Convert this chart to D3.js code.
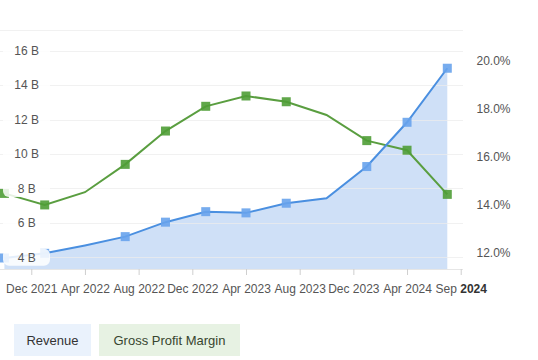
<!DOCTYPE html>
<html>
<head>
<meta charset="utf-8">
<script src="https://cdn.jsdelivr.net/npm/d3@7"></script>
<style>
  body { margin: 0; background: #fff; }
  svg { display: block; font-family: "Liberation Sans", Arial, sans-serif; }
</style>
</head>
<body>
<div id="chart"></div>
<script>
// quarterly periods (YYYY-MM)
var periods = ["2021-10","2022-01","2022-04","2022-07","2022-10","2023-01",
               "2023-04","2023-07","2023-10","2024-01","2024-04","2024-07"];
// revenue in billions
var revenue = [3.96, 4.23, 4.69, 5.20, 6.04, 6.65, 6.58, 7.14, 7.43, 9.27, 11.84, 14.98];
// gross profit margin in %
var margin = [14.45, 13.97, 14.50, 15.66, 17.05, 18.08, 18.51, 18.27, 17.72, 16.65, 16.25, 14.41];
// points drawn without a marker
var noMarker = [2, 8];

var tickPeriods = ["2021-12","2022-04","2022-08","2022-12","2023-04","2023-08","2023-12","2024-04","2024-08"];
var tickLabels = ["Dec 2021","Apr 2022","Aug 2022","Dec 2022","Apr 2023","Aug 2023","Dec 2023","Apr 2024","Sep 2024"];
var leftTicks = [4, 6, 8, 10, 12, 14, 16];
var rightTicks = [12, 14, 16, 18, 20];
var legendItems = ["Revenue", "Gross Profit Margin"];

function monthIndex(p) {
    var a = p.split("-"), b = periods[0].split("-");
    return (+a[0] - +b[0]) * 12 + (+a[1] - +b[1]);
}

var W = 538, H = 360;
var plotL = 0, plotR = 463, plotT = 30, plotB = 269;

var svg = d3.select("#chart").append("svg").attr("width", W).attr("height", H);

var x = d3.scaleLinear().domain([-0.33, 34.17]).range([plotL, plotR]);
var yL = d3.scaleLinear().domain([3.32, 17.2]).range([plotB, plotT]);
var yR = d3.scaleLinear().domain([11.3, 21.26]).range([plotB, plotT]);

var pts = periods.map(function(p, i) {
    return { m: monthIndex(p), rev: revenue[i], gm: margin[i], i: i };
});

// revenue area
var area = d3.area()
    .x(function(d) { return x(d.m); })
    .y0(plotB)
    .y1(function(d) { return yL(d.rev); });
svg.append("path").datum(pts)
    .attr("d", area)
    .attr("fill", "#cfe0f7");

// grid lines (on top of the area, very light)
svg.append("g").selectAll("line")
    .data(leftTicks)
    .enter().append("line")
    .attr("x1", plotL).attr("x2", plotR)
    .attr("y1", function(d) { return Math.round(yL(d)) + 0.5; })
    .attr("y2", function(d) { return Math.round(yL(d)) + 0.5; })
    .attr("stroke", "#ececec")
    .attr("stroke-opacity", 0.75);
svg.append("line")
    .attr("x1", plotL).attr("x2", plotR)
    .attr("y1", plotT + 0.5).attr("y2", plotT + 0.5)
    .attr("stroke", "#ececec").attr("stroke-opacity", 0.75);

// x axis
var xAxis = d3.axisBottom(x)
    .tickValues(tickPeriods.map(monthIndex))
    .tickSize(6)
    .tickPadding(9)
    .tickFormat(function(d, i) { return tickLabels[i]; });
var gx = svg.append("g")
    .attr("transform", "translate(0," + plotB + ")")
    .call(xAxis);
gx.select(".domain").attr("stroke", "#e6e6e6").attr("d", "M" + plotL + ",0.5H" + plotR);
gx.selectAll(".tick line").attr("stroke", "#cfcfcf");
gx.selectAll(".tick text")
    .attr("fill", "#555")
    .style("font-size", "12px")
    .style("font-family", "'Liberation Sans', Arial, sans-serif");
// last label: year in bold
gx.selectAll(".tick text").filter(function(d, i) { return i === tickLabels.length - 1; })
    .each(function(d, i) {
        var parts = tickLabels[tickLabels.length - 1].split(" ");
        var t = d3.select(this).text("");
        t.append("tspan").text(parts[0] + " ");
        t.append("tspan").attr("font-weight", "bold").attr("fill", "#333").text(parts[1]);
    });

// lines
var revLine = d3.line()
    .x(function(d) { return x(d.m); })
    .y(function(d) { return yL(d.rev); });
var gmLine = d3.line()
    .x(function(d) { return x(d.m); })
    .y(function(d) { return yR(d.gm); });

svg.append("path").datum(pts)
    .attr("d", gmLine)
    .attr("fill", "none")
    .attr("stroke", "#5a9e40")
    .attr("stroke-width", 2);
svg.append("path").datum(pts)
    .attr("d", revLine)
    .attr("fill", "none")
    .attr("stroke", "#4a8fe0")
    .attr("stroke-width", 2);

var ms = 9;
var marked = pts.filter(function(d) { return noMarker.indexOf(d.i) < 0; });
svg.append("g").selectAll("rect")
    .data(marked)
    .enter().append("rect")
    .attr("x", function(d) { return x(d.m) - ms / 2; })
    .attr("y", function(d) { return yR(d.gm) - ms / 2; })
    .attr("width", ms).attr("height", ms)
    .attr("fill", "#4f9d36")
    .attr("fill-opacity", 0.9);
svg.append("g").selectAll("rect")
    .data(marked)
    .enter().append("rect")
    .attr("x", function(d) { return x(d.m) - ms / 2; })
    .attr("y", function(d) { return yL(d.rev) - ms / 2; })
    .attr("width", ms).attr("height", ms)
    .attr("fill", "#68a3ec")
    .attr("fill-opacity", 0.9);

// left axis labels with white boxes, drawn over the plot
var gl = svg.append("g");
gl.selectAll("rect")
    .data(leftTicks)
    .enter().append("rect")
    .attr("x", 3).attr("y", function(d) { return yL(d) - 8.5; })
    .attr("width", 47).attr("height", 17)
    .attr("rx", 6)
    .attr("fill", "#fff")
    .attr("fill-opacity", 0.85);
gl.selectAll("text")
    .data(leftTicks)
    .enter().append("text")
    .attr("x", 26.7)
    .attr("y", function(d) { return yL(d); })
    .attr("dy", "0.36em")
    .attr("text-anchor", "middle")
    .attr("fill", "#555")
    .style("font-size", "12px")
    .text(function(d) { return d + " B"; });

// right axis labels
svg.append("g").selectAll("text")
    .data(rightTicks)
    .enter().append("text")
    .attr("x", 476.5)
    .attr("y", function(d) { return yR(d); })
    .attr("dy", "0.36em")
    .attr("fill", "#555")
    .style("font-size", "12px")
    .text(function(d) { return d.toFixed(1) + "%"; });

// legend
var legendBoxes = [
    { x: 14, w: 77, bg: "#eaf2fc", fg: "#333" },
    { x: 99, w: 141, bg: "#e7f2e3", fg: "#37452f" }
];
var lg = svg.append("g").selectAll("g")
    .data(legendItems)
    .enter().append("g");
lg.append("rect")
    .attr("x", function(d, i) { return legendBoxes[i].x; })
    .attr("y", 324)
    .attr("width", function(d, i) { return legendBoxes[i].w; })
    .attr("height", 32)
    .attr("fill", function(d, i) { return legendBoxes[i].bg; });
lg.append("text")
    .attr("x", function(d, i) { return legendBoxes[i].x + legendBoxes[i].w / 2; })
    .attr("y", 340)
    .attr("dy", "0.36em")
    .attr("text-anchor", "middle")
    .attr("fill", function(d, i) { return legendBoxes[i].fg; })
    .style("font-size", "13px")
    .text(function(d) { return d; });
</script>
</body>
</html>
